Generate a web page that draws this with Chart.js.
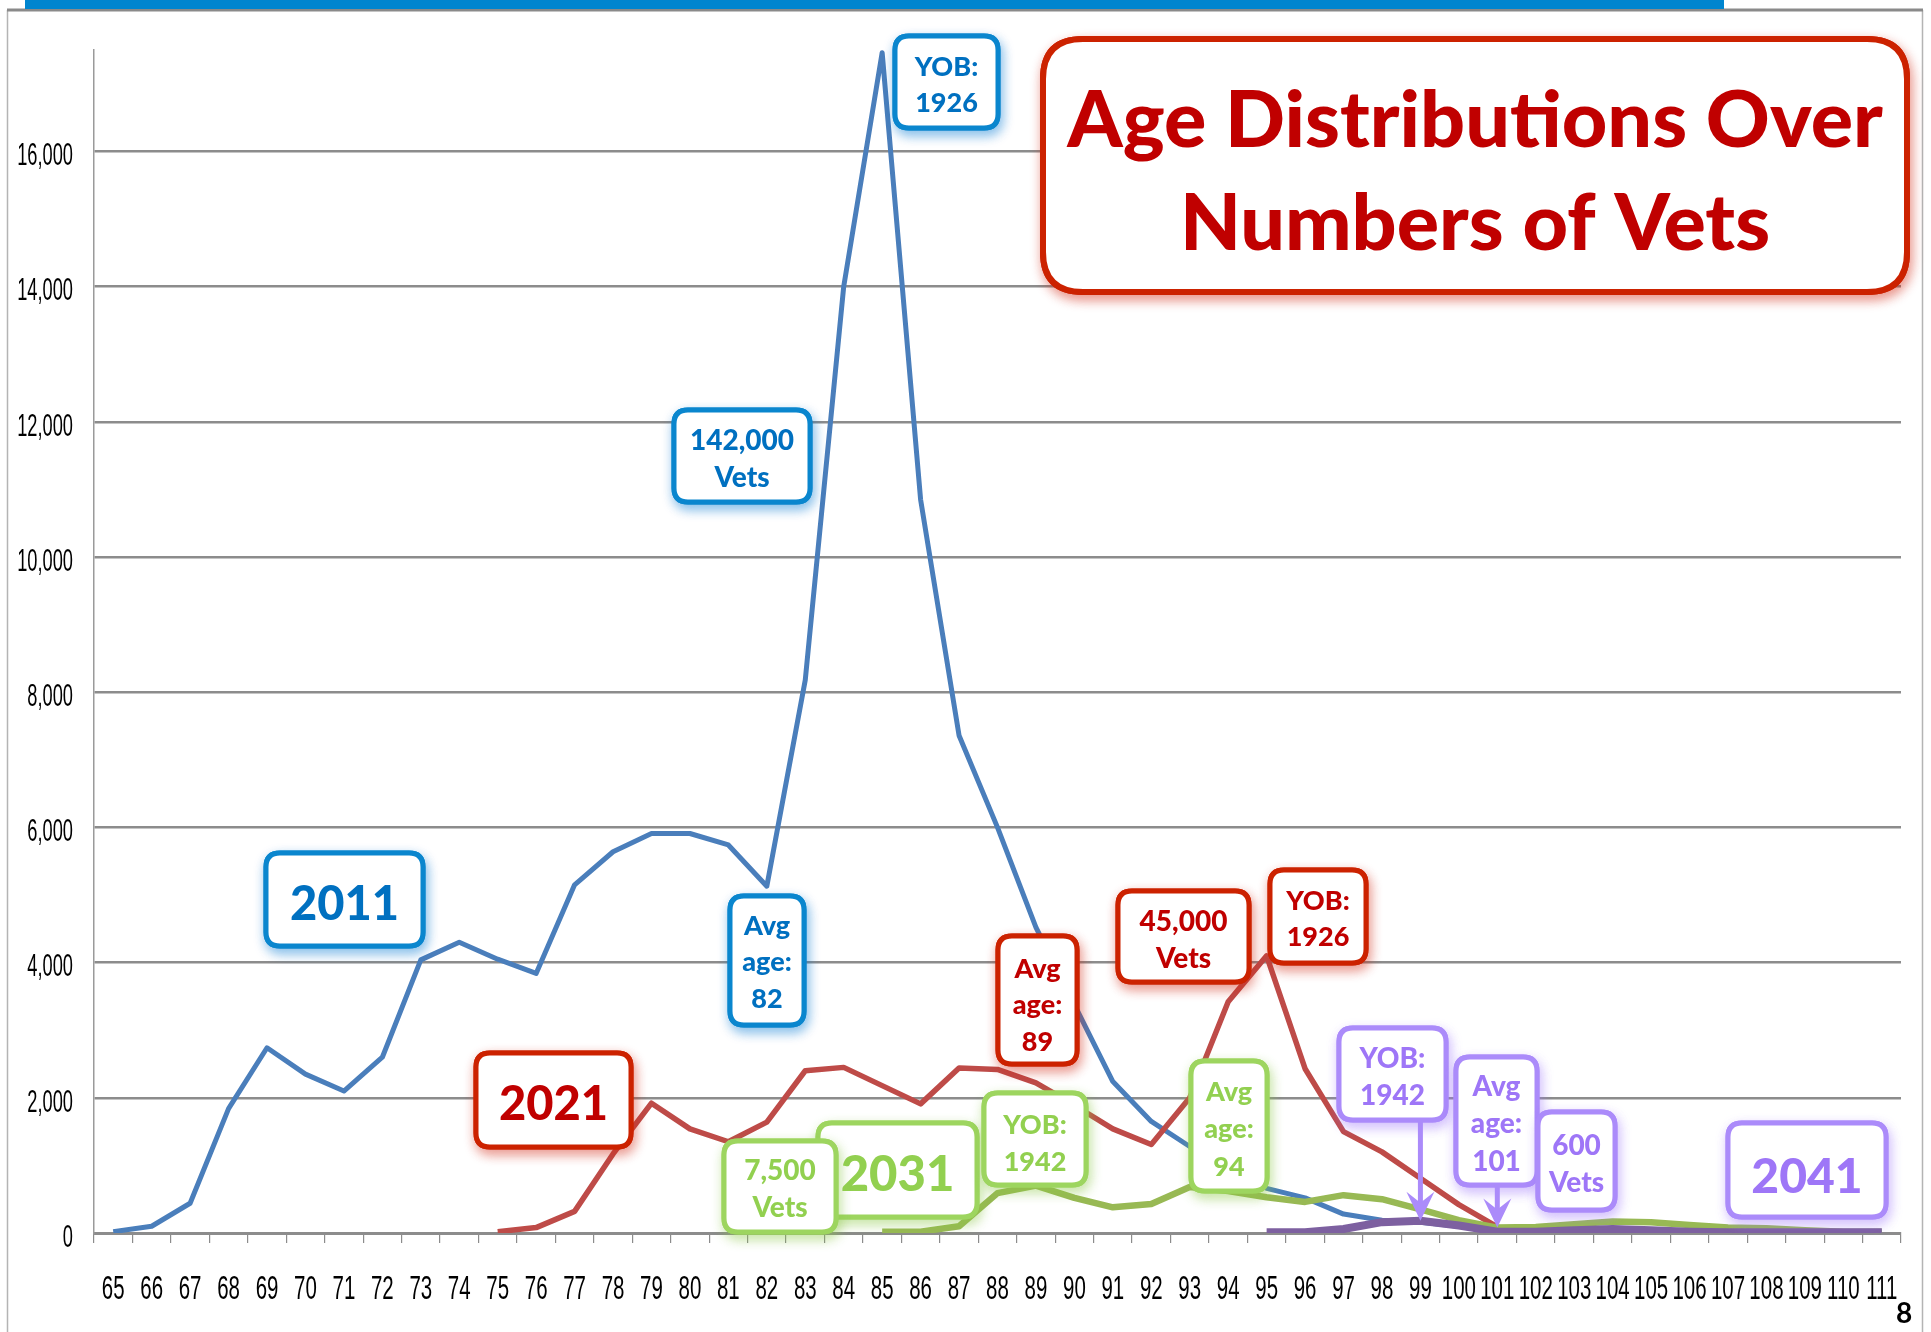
<!DOCTYPE html>
<html>
<head>
<meta charset="utf-8">
<title>Age Distributions Over Numbers of Vets</title>
<script src="https://cdn.jsdelivr.net/npm/chart.js@4.4.1/dist/chart.umd.min.js"></script>
<style>
  html, body { margin: 0; padding: 0; background: #fff; overflow: hidden; }
  #wrap { position: absolute; left: 0; top: 0; width: 1931px; height: 1332px; }
</style>
</head>
<body>
<div id="wrap"><canvas id="vets"></canvas></div>
<script>
// age of veteran (x axis)
const ages = ["65","66","67","68","69","70","71","72","73","74","75","76","77","78","79","80",
  "81","82","83","84","85","86","87","88","89","90","91","92","93","94","95","96","97","98",
  "99","100","101","102","103","104","105","106","107","108","109","110","111"];

// number of vets at each age
const vets2011 = [20,100,440,1840,2740,2350,2100,2600,4040,4300,4050,3840,5150,5640,5910,5910,
  5740,5130,8180,14000,17460,10850,7360,6000,4520,3380,2240,1650,1280,950,660,520,280,190,
  160,100,40,30,30,40,30,10,10,10,10,10,10];
const vets2021 = [null,null,null,null,null,null,null,null,null,null,20,80,320,1170,1920,1540,
  1350,1640,2400,2450,2180,1910,2440,2420,2220,1890,1540,1310,2000,3420,4100,2430,1500,1200,
  810,420,90,null,null,null,null,null,null,null,null,null,null];
const vets2031 = [null,null,null,null,null,null,null,null,null,null,null,null,null,null,null,null,
  null,null,null,null,20,20,100,590,700,520,380,430,680,620,530,460,560,500,
  350,190,80,90,130,170,160,120,80,70,40,20,20];
const vets2041 = [null,null,null,null,null,null,null,null,null,null,null,null,null,null,null,null,
  null,null,null,null,null,null,null,null,null,null,null,null,null,null,10,10,60,160,
  180,110,20,20,40,60,40,20,10,10,10,10,10];

// y axis tick values
const yTicks = [0, 2000, 4000, 6000, 8000, 10000, 12000, 14000, 16000];

const blueBox = { border: "#0A86CE", text: "#0070C0", glow: "rgba(0,120,210,0.45)" };
const redBox = { border: "#CC2200", text: "#C00000", glow: "rgba(210,40,20,0.45)" };
const greenBox = { border: "#9DD55F", text: "#92D050", glow: "rgba(140,200,70,0.45)" };
const purpleBox = { border: "#AB8BFA", text: "#9E76F7", glow: "rgba(160,120,250,0.45)" };

// call-out boxes laid over the chart
const callouts = [
  { x: 895, y: 36, w: 103, h: 92, style: blueBox, lines: ["YOB:", "1926"], size: 27, base: [76, 112] },
  { x: 674, y: 410, w: 136, h: 92, style: blueBox, lines: ["142,000", "Vets"], size: 28, base: [450, 487] },
  { x: 266, y: 853, w: 157, h: 93, style: blueBox, lines: ["2011"], size: 47, base: [920] },
  { x: 730, y: 896, w: 74, h: 129, style: blueBox, lines: ["Avg", "age:", "82"], size: 27, base: [935, 971, 1008] },
  { x: 476, y: 1053, w: 155, h: 94, style: redBox, lines: ["2021"], size: 47, base: [1120] },
  { x: 998, y: 936, w: 79, h: 128, style: redBox, lines: ["Avg", "age:", "89"], size: 27, base: [978, 1014, 1051] },
  { x: 1118, y: 891, w: 131, h: 91, style: redBox, lines: ["45,000", "Vets"], size: 28, base: [931, 968] },
  { x: 1270, y: 870, w: 96, h: 93, style: redBox, lines: ["YOB:", "1926"], size: 27, base: [910, 946] },
  { x: 818, y: 1123, w: 159, h: 94, style: greenBox, lines: ["2031"], size: 49, base: [1191] },
  { x: 724, y: 1141, w: 112, h: 91, style: greenBox, lines: ["7,500", "Vets"], size: 28, base: [1180, 1217] },
  { x: 984, y: 1093, w: 102, h: 92, style: greenBox, lines: ["YOB:", "1942"], size: 27, base: [1134, 1171] },
  { x: 1191, y: 1061, w: 76, h: 130, style: greenBox, lines: ["Avg", "age:", "94"], size: 27, base: [1101, 1138, 1176] },
  { x: 1339, y: 1028, w: 107, h: 92, style: purpleBox, lines: ["YOB:", "1942"], size: 28, base: [1068, 1105],
    arrow: { age: "99", series: vets2041 } },
  { x: 1456, y: 1057, w: 81, h: 128, style: purpleBox, lines: ["Avg", "age:", "101"], size: 28, base: [1096, 1133, 1171],
    arrow: { age: "101", series: vets2031 } },
  { x: 1538, y: 1112, w: 77, h: 98, style: purpleBox, lines: ["600", "Vets"], size: 28, base: [1155, 1192] },
  { x: 1728, y: 1123, w: 158, h: 94, style: purpleBox, lines: ["2041"], size: 48, base: [1193] }
];

const titleBox = { x: 1043, y: 39, w: 864, h: 253, lines: ["Age Distributions Over", "Numbers of Vets"], size: 79, base: [147, 250] };

function roundRect(ctx, x, y, w, h, r) {
  ctx.beginPath();
  ctx.moveTo(x + r, y);
  ctx.lineTo(x + w - r, y);
  ctx.quadraticCurveTo(x + w, y, x + w, y + r);
  ctx.lineTo(x + w, y + h - r);
  ctx.quadraticCurveTo(x + w, y + h, x + w - r, y + h);
  ctx.lineTo(x + r, y + h);
  ctx.quadraticCurveTo(x, y + h, x, y + h - r);
  ctx.lineTo(x, y + r);
  ctx.quadraticCurveTo(x, y, x + r, y);
  ctx.closePath();
}

function drawBox(ctx, b, border, textColor, glow, lineWidth, radius) {
  ctx.save();
  roundRect(ctx, b.x, b.y, b.w, b.h, radius);
  ctx.shadowColor = glow;
  ctx.shadowBlur = 12;
  ctx.shadowOffsetX = 2;
  ctx.shadowOffsetY = 5;
  ctx.fillStyle = "#fff";
  ctx.fill();
  ctx.strokeStyle = border;
  ctx.lineWidth = lineWidth;
  ctx.stroke();
  ctx.shadowColor = "transparent";
  roundRect(ctx, b.x, b.y, b.w, b.h, radius);
  ctx.fill();
  ctx.stroke();
  ctx.fillStyle = textColor;
  ctx.font = "900 " + b.size + "px Lato, 'Open Sans', sans-serif";
  ctx.textAlign = "center";
  ctx.textBaseline = "alphabetic";
  b.lines.forEach((line, i) => ctx.fillText(line, b.x + b.w / 2, b.base[i]));
  ctx.restore();
}

const slideFrame = {
  id: "slideFrame",
  beforeDraw(chart) {
    const ctx = chart.ctx;
    ctx.save();
    ctx.fillStyle = "#fff";
    ctx.fillRect(0, 0, chart.width, chart.height);
    ctx.strokeStyle = "#b4b4b4";
    ctx.lineWidth = 1.5;
    ctx.beginPath();
    ctx.moveTo(7.5, 10); ctx.lineTo(7.5, chart.height);
    ctx.moveTo(1922.5, 10); ctx.lineTo(1922.5, chart.height);
    ctx.stroke();
    ctx.strokeStyle = "#8a8a8a";
    ctx.lineWidth = 3;
    ctx.beginPath();
    ctx.moveTo(7, 10); ctx.lineTo(1923, 10);
    ctx.stroke();
    ctx.fillStyle = "#0085CF";
    ctx.fillRect(25, 0, 1699, 9);
    ctx.restore();
  }
};

// the slide squeezes the axis text sideways, so draw it ourselves
const squeezedTicks = {
  id: "squeezedTicks",
  afterDraw(chart) {
    const ctx = chart.ctx;
    const xs = chart.scales.x, ys = chart.scales.y;
    ctx.save();
    ctx.fillStyle = "#000";
    ctx.textBaseline = "middle";
    ctx.font = "32px 'Liberation Sans', Arial, sans-serif";
    ctx.textAlign = "right";
    ys.ticks.forEach((t, i) => {
      ctx.save();
      ctx.translate(73, ys.getPixelForTick(i) + 5);
      ctx.scale(0.57, 1);
      ctx.fillText(Number(t.value).toLocaleString("en-US"), 0, 0);
      ctx.restore();
    });
    ctx.font = "33px 'Liberation Sans', Arial, sans-serif";
    ctx.textAlign = "center";
    xs.ticks.forEach((t, i) => {
      ctx.save();
      ctx.translate(xs.getPixelForTick(i), 1290);
      ctx.scale(0.62, 1);
      ctx.fillText(xs.getLabelForValue(t.value), 0, 0);
      ctx.restore();
    });
    // slide number
    ctx.font = "bold 28px Lato, sans-serif";
    ctx.textBaseline = "alphabetic";
    ctx.fillText("8", 1904, 1323);
    ctx.restore();
  }
};

const calloutBoxes = {
  id: "calloutBoxes",
  afterDatasetsDraw(chart) {
    const ctx = chart.ctx;
    const xs = chart.scales.x, ys = chart.scales.y;
    callouts.forEach(b => drawBox(ctx, b, b.style.border, b.style.text, b.style.glow, 5, 14));
    callouts.filter(b => b.arrow).forEach(b => {
      const idx = ages.indexOf(b.arrow.age);
      const tx = xs.getPixelForValue(idx);
      const ty = ys.getPixelForValue(b.arrow.series[idx]);
      ctx.save();
      ctx.strokeStyle = b.style.border;
      ctx.fillStyle = b.style.border;
      ctx.lineWidth = 5;
      ctx.beginPath();
      ctx.moveTo(tx, b.y + b.h);
      ctx.lineTo(tx, ty - 16);
      ctx.stroke();
      ctx.beginPath();
      ctx.moveTo(tx, ty);
      ctx.lineTo(tx - 14, ty - 29);
      ctx.lineTo(tx, ty - 18);
      ctx.lineTo(tx + 14, ty - 29);
      ctx.closePath();
      ctx.fill();
      ctx.restore();
    });
    drawBox(ctx, titleBox, "#CC2200", "#C00000", "rgba(210,40,20,0.45)", 6, 40);
  }
};

const ctx = document.getElementById("vets").getContext("2d");

new Chart(ctx, {
  type: "line",
  data: {
    labels: ages,
    datasets: [
      { label: "2011", data: vets2011, borderColor: "#4A7EBB", borderWidth: 5, order: 4 },
      { label: "2021", data: vets2021, borderColor: "#BE4B48", borderWidth: 5.5, order: 3 },
      { label: "2031", data: vets2031, borderColor: "#98B954", borderWidth: 6.5, order: 2 },
      { label: "2041", data: vets2041, borderColor: "#7D60A0", borderWidth: 8, order: 1 }
    ]
  },
  options: {
    responsive: true,
    maintainAspectRatio: false,
    animation: false,
    devicePixelRatio: 1,
    layout: { padding: { left: 0, right: 30, top: 50, bottom: 0 }, autoPadding: false },
    elements: {
      point: { radius: 0, hoverRadius: 0 },
      line: { tension: 0, fill: false, borderJoinStyle: "round", borderCapStyle: "butt" }
    },
    plugins: {
      legend: { display: false },
      tooltip: { enabled: false }
    },
    scales: {
      x: {
        type: "category",
        offset: true,
        grid: { offset: true, drawOnChartArea: false, drawTicks: true, tickLength: 10, color: "#8C8C8C", lineWidth: 1.2 },
        border: { display: true, color: "#8C8C8C", width: 3 },
        ticks: { display: false, autoSkip: false, maxRotation: 0 },
        afterFit(scale) { scale.height = 99; }
      },
      y: {
        min: 0,
        max: 17500,
        grid: { color: "#8C8C8C", lineWidth: 2.5, drawTicks: false },
        border: { display: true, color: "#9A9A9A", width: 1.5 },
        ticks: { display: false },
        afterBuildTicks(scale) { scale.ticks = yTicks.map(v => ({ value: v })); },
        afterFit(scale) { scale.width = 94; }
      }
    }
  },
  plugins: [slideFrame, squeezedTicks, calloutBoxes]
});
</script>
</body>
</html>
